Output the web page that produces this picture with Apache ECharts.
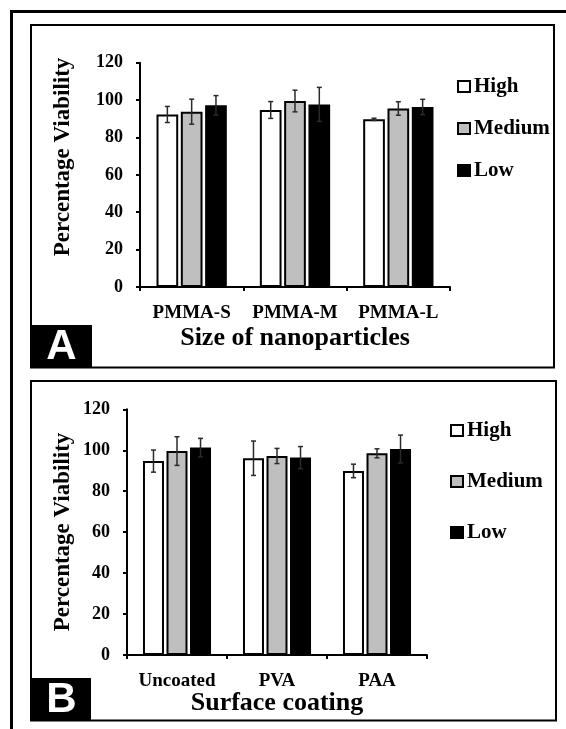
<!DOCTYPE html>
<html>
<head>
<meta charset="utf-8">
<script src="https://cdn.jsdelivr.net/npm/echarts@6/dist/echarts.min.js"></script>
<style>
html,body{margin:0;padding:0;background:#fff;}
#c{width:566px;height:729px;}
</style>
</head>
<body>
<div id="c"></div>
<script>
// ---- data ----
var levels = ['High', 'Medium', 'Low'];
var categoriesA = ['PMMA-S', 'PMMA-M', 'PMMA-L'];
var categoriesB = ['Uncoated', 'PVA', 'PAA'];
var highA = [92.3, 94.7, 89.7];
var highErrA = [4.3, 4.5, 0.6];
var mediumA = [93.8, 99.5, 95.5];
var mediumErrA = [6.7, 5.8, 3.6];
var lowA = [97.2, 97.7, 96.3];
var lowErrA = [5.2, 9.1, 4.1];
var highB = [94.7, 96.1, 89.9];
var highErrB = [5.4, 8.4, 3.3];
var mediumB = [99.6, 97.2, 98.5];
var mediumErrB = [7.0, 3.7, 2.2];
var lowB = [101.3, 96.4, 100.6];
var lowErrB = [4.5, 5.4, 6.8];
var yMin = 0, yMax = 120, yStep = 20;
var titleAx = 'Size of nanoparticles';
var titleBx = 'Surface coating';
var titleY = 'Percentage Viability';

// ---- style ----
var SERIF = '"Liberation Serif","Times New Roman",serif';
var SANS = '"Liberation Sans",Arial,sans-serif';
var fills = ['#ffffff', '#bfbfbf', '#000000'];
var BW = 0.21, BG = 0.12;

var chart = echarts.init(document.getElementById('c'), null, {renderer: 'canvas'});

function makeErr(si) {
  return function (params, api) {
    var idx = api.value(0), val = api.value(1), err = api.value(2);
    var c = api.coord([idx, val]);
    var band = api.size([1, 0])[0];
    var w = band * BW, gap = w * BG;
    var x = c[0] + (si - 1) * (w + gap);
    var top = api.coord([idx, val + err])[1];
    var bot = api.coord([idx, val - err])[1];
    var st = {stroke: '#2a2a2a', lineWidth: 1.5};
    return {type: 'group', children: [
      {type: 'line', shape: {x1: x, y1: top, x2: x, y2: bot}, style: st},
      {type: 'line', shape: {x1: x - 2.5, y1: top, x2: x + 2.5, y2: top}, style: st},
      {type: 'line', shape: {x1: x - 2.5, y1: bot, x2: x + 2.5, y2: bot}, style: st}
    ]};
  };
}

var valsA = [highA, mediumA, lowA], errsA = [highErrA, mediumErrA, lowErrA];
var valsB = [highB, mediumB, lowB], errsB = [highErrB, mediumErrB, lowErrB];

var series = [];
[[valsA, errsA, 0], [valsB, errsB, 1]].forEach(function (g) {
  var vals = g[0], errs = g[1], gi = g[2];
  levels.forEach(function (name, i) {
    series.push({
      type: 'bar', name: name, xAxisIndex: gi, yAxisIndex: gi,
      data: vals[i], barWidth: (BW * 100) + '%', barGap: (BG * 100) + '%',
      itemStyle: {color: fills[i], borderColor: '#000', borderWidth: 2},
      emphasis: {disabled: true}, animation: false
    });
  });
  levels.forEach(function (name, i) {
    series.push({
      type: 'custom', name: 'err' + gi + i, xAxisIndex: gi, yAxisIndex: gi,
      data: vals[i].map(function (v, k) { return [k, v, errs[i][k]]; }),
      renderItem: makeErr(i), z: 5, animation: false, silent: true
    });
  });
});

function yAxisCfg(gi) {
  return {
    type: 'value', gridIndex: gi, min: yMin, max: yMax, interval: yStep,
    splitLine: {show: false},
    axisLine: {show: true, lineStyle: {color: '#000', width: 2}},
    axisTick: {show: true, length: 4, lineStyle: {color: '#000', width: 2}},
    axisLabel: {margin: 17, color: '#000', fontFamily: SERIF, fontWeight: 'bold', fontSize: 18}
  };
}
function xAxisCfg(gi, cats) {
  return {
    type: 'category', gridIndex: gi, data: cats,
    axisLine: {show: true, lineStyle: {color: '#000', width: 2}},
    axisTick: {show: true, length: 4, alignWithLabel: false, lineStyle: {color: '#000', width: 2}},
    axisLabel: {interval: 0, margin: 17, color: '#000', fontFamily: SERIF, fontWeight: 'bold', fontSize: 19}
  };
}
function legendCfg(left, top, gap) {
  return {
    orient: 'vertical', left: left, top: top, itemGap: gap,
    data: levels, icon: 'rect', itemWidth: 12, itemHeight: 11, selectedMode: false,
    textStyle: {color: '#000', fontFamily: SERIF, fontWeight: 'bold', fontSize: 21, padding: [0, 0, 0, -1]}
  };
}

var option = {
  backgroundColor: '#fff',
  animation: false,
  grid: [
    {left: 140, top: 62.7, width: 310, height: 224.3, containLabel: false},
    {left: 127, top: 409.3, width: 300, height: 245.7, containLabel: false}
  ],
  xAxis: [xAxisCfg(0, categoriesA), xAxisCfg(1, categoriesB)],
  yAxis: [yAxisCfg(0), yAxisCfg(1)],
  legend: [legendCfg(452, 71, 21), legendCfg(445, 415, 30)],
  series: series,
  graphic: [
    {type: 'rect', shape: {x: 11.5, y: 11.5, width: 700, height: 800}, style: {fill: null, stroke: '#000', lineWidth: 3}, z: 1},
    {type: 'rect', shape: {x: 31, y: 25, width: 523, height: 342.5}, style: {fill: null, stroke: '#000', lineWidth: 2}, z: 1},
    {type: 'rect', shape: {x: 31, y: 381, width: 525, height: 339.5}, style: {fill: null, stroke: '#000', lineWidth: 2}, z: 1},
    {type: 'rect', shape: {x: 31, y: 325, width: 61, height: 42.5}, style: {fill: '#000'}, z: 2},
    {type: 'text', x: 61.5, y: 347, style: {text: 'A', fill: '#fff', font: 'bold 42px ' + SANS, align: 'center', verticalAlign: 'middle'}, z: 3},
    {type: 'rect', shape: {x: 31, y: 678, width: 60, height: 42.5}, style: {fill: '#000'}, z: 2},
    {type: 'text', x: 61.5, y: 700, style: {text: 'B', fill: '#fff', font: 'bold 42px ' + SANS, align: 'center', verticalAlign: 'middle'}, z: 3},
    {type: 'text', x: 63, y: 157, rotation: Math.PI / 2, style: {text: titleY, fill: '#000', font: 'bold 23px ' + SERIF, align: 'center', verticalAlign: 'middle'}, z: 3},
    {type: 'text', x: 63, y: 532, rotation: Math.PI / 2, style: {text: titleY, fill: '#000', font: 'bold 23px ' + SERIF, align: 'center', verticalAlign: 'middle'}, z: 3},
    {type: 'text', x: 295, y: 338, style: {text: titleAx, fill: '#000', font: 'bold 26px ' + SERIF, align: 'center', verticalAlign: 'middle'}, z: 3},
    {type: 'text', x: 277, y: 703, style: {text: titleBx, fill: '#000', font: 'bold 26px ' + SERIF, align: 'center', verticalAlign: 'middle'}, z: 3}
  ]
};
chart.setOption(option);
</script>
</body>
</html>
